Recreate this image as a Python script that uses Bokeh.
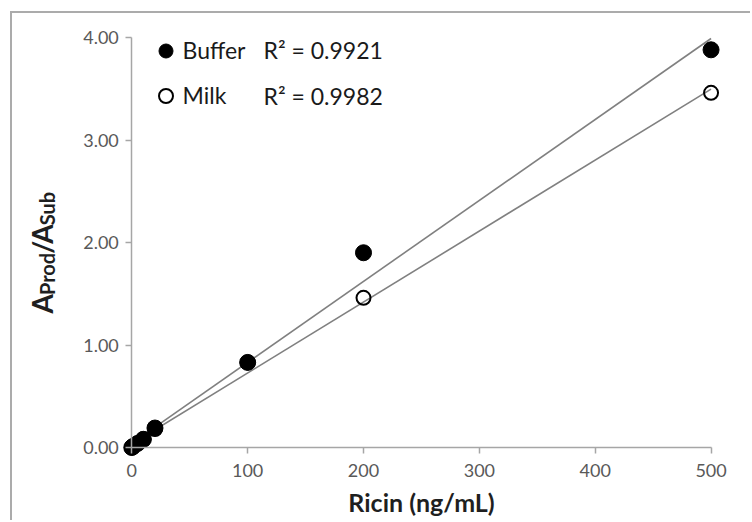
import numpy as np
from bokeh.plotting import figure
from bokeh.models import (Range1d, FixedTicker, PrintfTickFormatter, Legend,
                          LegendItem, Label)
from bokeh.embed import file_html
from bokeh.resources import INLINE

# ---------------- data ----------------
ricin = [0, 1, 5, 10, 20, 100, 200, 500]
buffer_ratio = [0.00, 0.01, 0.04, 0.08, 0.19, 0.83, 1.90, 3.88]
milk_ratio = [0.00, 0.01, 0.04, 0.08, 0.18, 0.83, 1.46, 3.46]
series_names = ["Buffer", "Milk"]
r2_labels = ["R\u00b2 = 0.9921", "R\u00b2 = 0.9982"]
x_ticks = [0, 100, 200, 300, 400, 500]
y_ticks = [0, 1, 2, 3, 4]
x_title = "Ricin (ng/mL)"
y_title_parts = [("A", False), ("Prod", True), ("/", False), ("A", False), ("Sub", True)]

# ---------------- layout constants ----------------
FONT = "Lato"
OX, OY = 12, 13            # page position of the figure's content
X0, PXX = 131.3, 1.1585    # page x of ricin=0, px per unit
Y0, PXY = 447.0, 102.5     # page y of ratio=0, px per unit
W, H = 752 - OX, 522 - OY
# the frame covers the whole canvas so that nothing drawn near the axes is clipped
F_L, F_R, F_T, F_B = OX, 752, OY, 522


def dx(px):
    return (px - X0) / PXX


def dy(py):
    return (Y0 - py) / PXY


p = figure(width=W, height=H, output_backend="svg", toolbar_location=None,
           title=None,
           x_range=Range1d(dx(F_L), dx(F_R)), y_range=Range1d(dy(F_B), dy(F_T)),
           min_border_left=0, min_border_right=0,
           min_border_top=0, min_border_bottom=0)
p.margin = (OY - 2, 0, 0, OX - 2)
p.styles = {"border-left": "2px solid #ababab", "border-top": "2px solid #ababab"}
p.grid.visible = False
p.outline_line_color = None
p.background_fill_color = "white"
p.border_fill_color = "white"

AX_COL = "#a6a6a6"
for ax in (p.xaxis, p.yaxis):
    ax.axis_line_color = AX_COL
    ax.axis_line_width = 1.5
    ax.major_tick_line_color = AX_COL
    ax.major_tick_line_width = 1.5
    ax.major_tick_in = 0
    ax.major_tick_out = 6
    ax.minor_tick_line_color = None
    ax.major_label_text_font = FONT
    ax.major_label_text_font_size = "18px"
    ax.major_label_text_color = "#595959"

p.xaxis.fixed_location = 0
p.yaxis.fixed_location = 0
p.xaxis.bounds = (x_ticks[0], x_ticks[-1])
p.yaxis.bounds = (y_ticks[0], y_ticks[-1])
p.xaxis.ticker = FixedTicker(ticks=x_ticks)
p.yaxis.ticker = FixedTicker(ticks=y_ticks)
p.yaxis.formatter = PrintfTickFormatter(format="%.2f")
p.xaxis.major_label_standoff = 10
p.yaxis.major_label_standoff = 7
p.xaxis.axis_label = x_title
p.xaxis.axis_label_text_font = FONT
p.xaxis.axis_label_text_font_style = "bold"
p.xaxis.axis_label_text_font_size = "25px"
p.xaxis.axis_label_text_color = "#1f1f1f"
p.xaxis.axis_label_standoff = 7

# ---------------- trendlines ----------------
LINE_COL = "#808080"
for vals in (buffer_ratio, milk_ratio):
    coef = np.polyfit(ricin, vals, 1)
    lx = [min(ricin), max(ricin)]
    p.line(lx, np.polyval(coef, lx).tolist(), line_color=LINE_COL, line_width=1.6)

# ---------------- points ----------------
r_milk = p.scatter(ricin, milk_ratio, size=14, marker="circle",
                   fill_alpha=0, line_color="black", line_width=2)
r_buf = p.scatter(ricin, buffer_ratio, size=16, marker="circle",
                  fill_color="black", line_color="black")

legend = Legend(items=[LegendItem(label=series_names[0], renderers=[r_buf]),
                       LegendItem(label=series_names[1], renderers=[r_milk])],
                location=(147.5 - F_L, F_B - 112.5), padding=0, margin=0,
                spacing=10, glyph_width=35, glyph_height=35, label_standoff=0,
                label_text_font=FONT, label_text_font_size="23px",
                label_text_color="#1a1a1a", border_line_color=None,
                background_fill_alpha=0)
p.add_layout(legend)

for txt, py in zip(r2_labels, (49, 95)):
    p.add_layout(Label(x=dx(263), y=dy(py), text=txt, text_font=FONT,
                       text_font_size="23px", text_color="#1a1a1a",
                       text_baseline="middle", text_align="left"))

# ---------------- y title with subscripts ----------------
MAIN, SUB = 28, 20
wid = {"A": 0.66, "/": 0.36, "P": 0.58, "r": 0.37, "o": 0.55, "d": 0.56,
       "S": 0.50, "u": 0.56, "b": 0.57}
py = 313.0
for txt, is_sub in y_title_parts:
    fs = SUB if is_sub else MAIN
    bx = 46 if is_sub else 41
    p.add_layout(Label(x=dx(bx), y=dy(py), text=txt, angle=np.pi / 2,
                       angle_units="rad", text_font=FONT, text_font_style="bold",
                       text_font_size=f"{fs}px", text_color="#1f1f1f",
                       text_baseline="alphabetic", text_align="left"))
    py -= sum(wid[c] for c in txt) * fs

open("out.html", "w").write(file_html(p, INLINE))
